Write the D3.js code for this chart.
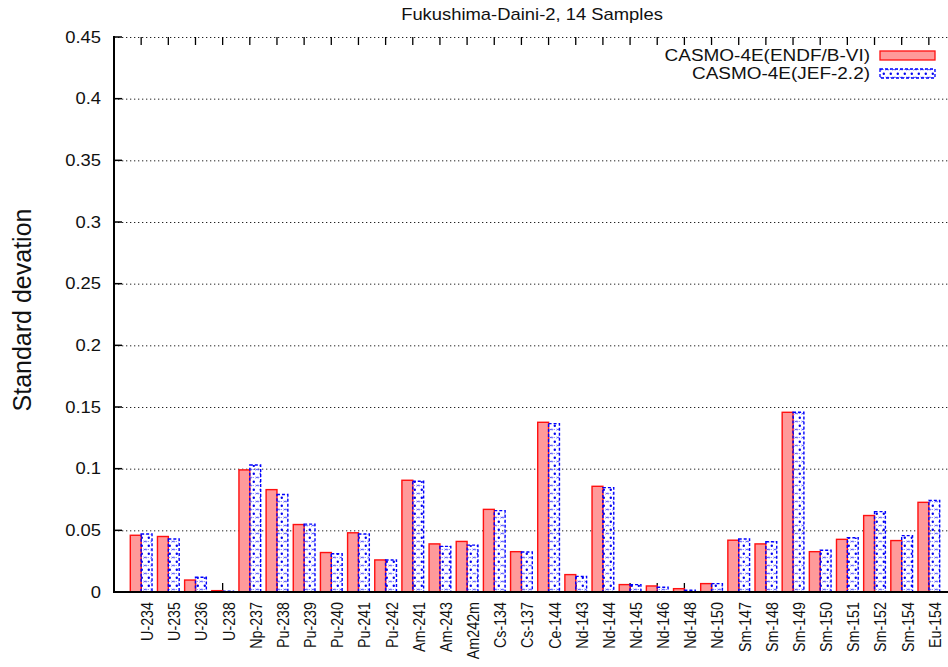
<!DOCTYPE html>
<html>
<head>
<meta charset="utf-8">
<script src="https://cdn.jsdelivr.net/npm/d3@7"></script>
<style>
  html, body { margin: 0; padding: 0; background: #fff; }
  svg { display: block; font-family: "Liberation Sans", Arial, sans-serif; }
</style>
</head>
<body>
<svg id="chart" width="948" height="667"></svg>
<script>
const categories = ["U-234","U-235","U-236","U-238","Np-237","Pu-238","Pu-239","Pu-240","Pu-241","Pu-242",
  "Am-241","Am-243","Am242m","Cs-134","Cs-137","Ce-144","Nd-143","Nd-144","Nd-145","Nd-146",
  "Nd-148","Nd-150","Sm-147","Sm-148","Sm-149","Sm-150","Sm-151","Sm-152","Sm-154","Eu-154"];
const endfValues = [0.046,0.045,0.0097,0.0011,0.099,0.083,0.0547,0.032,0.048,0.026,
  0.0906,0.039,0.041,0.067,0.0327,0.1376,0.0141,0.0857,0.006,0.0049,
  0.0027,0.0068,0.042,0.039,0.1457,0.0327,0.0427,0.062,0.0417,0.0727];
const jefValues = [0.047,0.043,0.0119,0.0006,0.103,0.079,0.055,0.031,0.047,0.026,
  0.0898,0.037,0.038,0.066,0.0324,0.1365,0.0127,0.0846,0.006,0.0038,
  0.0014,0.0068,0.043,0.0408,0.1457,0.0338,0.044,0.0652,0.0457,0.0743];
const seriesNames = ["CASMO-4E(ENDF/B-VI)", "CASMO-4E(JEF-2.2)"];
const yTickValues = [0, 0.05, 0.1, 0.15, 0.2, 0.25, 0.3, 0.35, 0.4, 0.45];
const yTickLabels = ["0", "0.05", "0.1", "0.15", "0.2", "0.25", "0.3", "0.35", "0.4", "0.45"];
const titleText = "Fukushima-Daini-2, 14 Samples";
const yTitleText = "Standard devation";

const svg = d3.select("#chart");
const SX = 1.15;               // horizontal text stretch
const plotTop = 37, plotBottom = 592, plotLeft = 114;
const x = d3.scaleLinear().domain([-1, categories.length]).range([plotLeft, 956]);
const y = d3.scaleLinear().domain([0, 0.45]).range([plotBottom, plotTop]);
const barW = 0.4;

// fill pattern for the second series: blue dots and small rings
const defs = svg.append("defs");
const pat = defs.append("pattern").attr("id", "dots")
  .attr("patternUnits", "userSpaceOnUse").attr("width", 7).attr("height", 8);
pat.append("circle").attr("cx", 1.8).attr("cy", 1.8).attr("r", 1.2).attr("fill", "#0000ee");
pat.append("path").attr("d", "M3.7,6.4 a1.6,1.6 0 0 1 3.1,0").attr("fill", "none")
  .attr("stroke", "#2a2aff").attr("stroke-width", 0.85);
pat.append("path").attr("d", "M3.7,4.6 a1.6,1.6 0 0 0 3.1,0").attr("fill", "none")
  .attr("stroke", "#5a5aff").attr("stroke-width", 0.7);
pat.append("circle").attr("cx", 1.2).attr("cy", 5.5).attr("r", 0.6).attr("fill", "#5656ff");

// grid lines
svg.append("g").selectAll("line").data(yTickValues).join("line")
  .attr("x1", plotLeft).attr("x2", 948)
  .attr("y1", d => y(d) + 0.5).attr("y2", d => y(d) + 0.5)
  .attr("stroke", "#222").attr("stroke-width", 1)
  .attr("stroke-dasharray", "1.3,2.7");

// bottom ticks (beneath the bars)
svg.append("g").selectAll("line").data(categories).join("line")
  .attr("x1", (d, i) => x(i)).attr("x2", (d, i) => x(i))
  .attr("y1", plotBottom).attr("y2", plotBottom - 9)
  .attr("stroke", "#000").attr("stroke-width", 1.3);

// bars
const bars = svg.append("g");
bars.selectAll("rect.endf").data(endfValues).join("rect").attr("class", "endf")
  .attr("x", (d, i) => x(i - barW)).attr("width", x(barW) - x(0))
  .attr("y", d => y(d)).attr("height", d => y(0) - y(d))
  .attr("fill", "#ff9a9a").attr("stroke", "#ff1010").attr("stroke-width", 1.4);
bars.selectAll("rect.jef").data(jefValues).join("rect").attr("class", "jef")
  .attr("x", (d, i) => x(i)).attr("width", x(barW) - x(0))
  .attr("y", d => y(d)).attr("height", d => y(0) - y(d))
  .attr("fill", "url(#dots)").attr("stroke", "#0000ff").attr("stroke-width", 1.4)
  .attr("stroke-dasharray", "3,2");

// axes lines
svg.append("line").attr("x1", plotLeft).attr("x2", plotLeft).attr("y1", plotTop - 1).attr("y2", plotBottom + 1)
  .attr("stroke", "#000").attr("stroke-width", 2);
svg.append("line").attr("x1", plotLeft - 1).attr("x2", 948).attr("y1", plotBottom).attr("y2", plotBottom)
  .attr("stroke", "#000").attr("stroke-width", 2);

// top mirrored ticks
svg.append("g").selectAll("line").data(categories).join("line")
  .attr("x1", (d, i) => x(i)).attr("x2", (d, i) => x(i))
  .attr("y1", plotTop).attr("y2", plotTop + 8)
  .attr("stroke", "#000").attr("stroke-width", 1.3);

// y ticks and labels
svg.append("g").selectAll("line").data(yTickValues).join("line")
  .attr("x1", plotLeft).attr("x2", plotLeft + 8)
  .attr("y1", d => y(d)).attr("y2", d => y(d))
  .attr("stroke", "#000").attr("stroke-width", 1.5);
svg.append("g").selectAll("text").data(yTickValues).join("text")
  .attr("transform", d => `translate(101,${y(d)}) scale(${SX},1)`)
  .attr("dy", "0.36em").attr("text-anchor", "end")
  .attr("font-size", 16).attr("fill", "#111")
  .text((d, i) => yTickLabels[i]);

// x labels (rotated)
svg.append("g").selectAll("text").data(categories).join("text")
  .attr("transform", (d, i) => `translate(${x(i) + 6},602) scale(${SX},1) rotate(-90)`)
  .attr("dy", "0.36em").attr("text-anchor", "end")
  .attr("font-size", 14.3).attr("fill", "#111")
  .text(d => d);

// title
svg.append("text")
  .attr("transform", `translate(532,20) scale(${SX},1)`)
  .attr("text-anchor", "middle").attr("font-size", 16).attr("fill", "#111")
  .text(titleText);

// y-axis title
svg.append("text")
  .attr("transform", `translate(22,310) rotate(-90)`)
  .attr("dy", "0.36em").attr("text-anchor", "middle").attr("font-size", 25).attr("fill", "#111")
  .text(yTitleText);

// legend
const legend = svg.append("g");
const legendRows = [
  { name: seriesNames[0], fill: "#ff9a9a", stroke: "#ff1010", dash: null },
  { name: seriesNames[1], fill: "url(#dots)", stroke: "#0000ff", dash: "3,2" }
];
legendRows.forEach((r, i) => {
  const cy = 55.5 + i * 18;
  legend.append("text")
    .attr("transform", `translate(870,${cy}) scale(${SX},1)`)
    .attr("dy", "0.36em").attr("text-anchor", "end")
    .attr("font-size", 16.5).attr("fill", "#111").text(r.name);
  legend.append("rect").attr("x", 880).attr("y", cy - 4.5).attr("width", 55).attr("height", 9)
    .attr("fill", r.fill).attr("stroke", r.stroke).attr("stroke-width", 1.3)
    .attr("stroke-dasharray", r.dash);
});
</script>
</body>
</html>
